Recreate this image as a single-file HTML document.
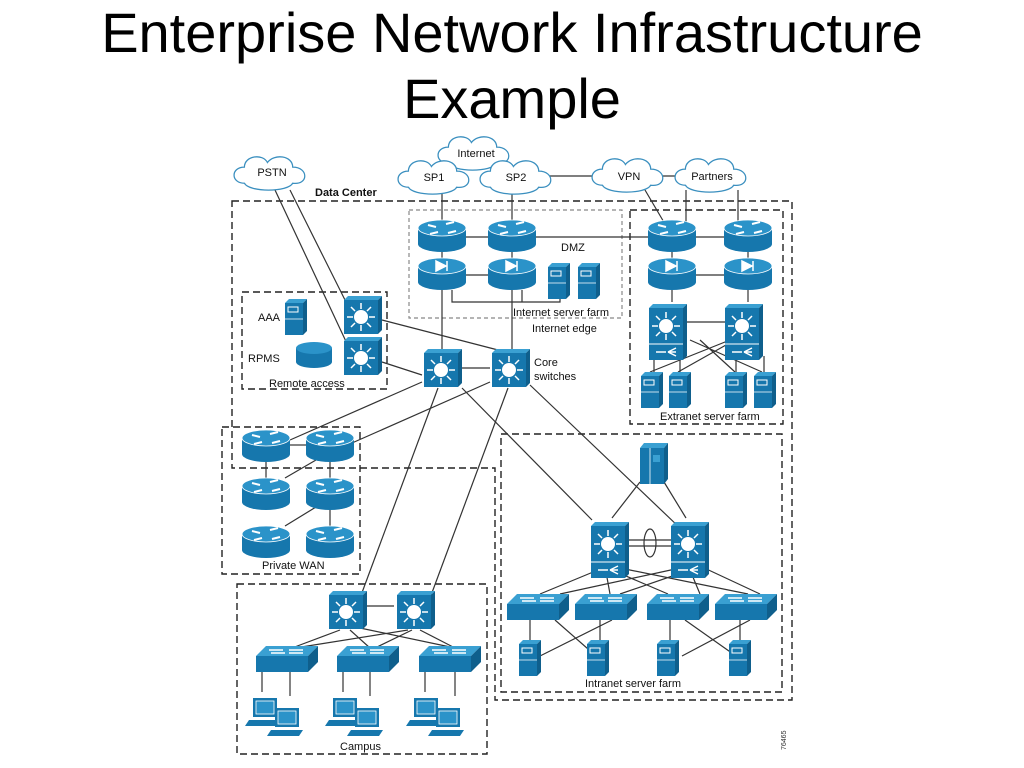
<!DOCTYPE html>
<html><head><meta charset="utf-8"><style>
html,body{margin:0;padding:0;background:#fff;}
svg{display:block;font-family:"Liberation Sans",Arial,sans-serif;}
</style></head><body>
<svg width="1024" height="768" viewBox="0 0 1024 768" xmlns="http://www.w3.org/2000/svg">
<defs>
<g id="router">
 <rect x="-24" y="-7" width="48" height="16" fill="#1677ad"/>
 <ellipse cx="0" cy="9" rx="24" ry="8" fill="#1677ad"/>
 <ellipse cx="0" cy="-7" rx="24" ry="8" fill="#2b93c9" stroke="#fff" stroke-width="0.8"/>
 <path d="M-14,-10 l8,2 M-4,-3 l-8,2 M4,-11 l8,-2 M14,-4 l-8,2" stroke="#fff" stroke-width="2"/>
</g>
<g id="fw">
 <rect x="-24" y="-7" width="48" height="16" fill="#1677ad"/>
 <ellipse cx="0" cy="9" rx="24" ry="8" fill="#1677ad"/>
 <ellipse cx="0" cy="-7" rx="24" ry="8" fill="#2b93c9" stroke="#fff" stroke-width="0.8"/>
 <path d="M-6,-12 L4,-7 L-6,-2 Z M5,-12 V-2" fill="#fff" stroke="#fff" stroke-width="1.5"/>
</g>
<g id="l3">
 <rect x="-19" y="-15" width="34" height="34" fill="#1677ad"/>
 <path d="M-19,-15 l4,-4 h34 l-4,4 Z" fill="#3aa0d2"/>
 <path d="M15,-15 l4,-4 v34 l-4,4 Z" fill="#0f5f8c"/>
 <circle cx="-2" cy="2" r="7" fill="#fff"/>
 <path d="M-2,-12 v6 M-2,10 v6 M-16,2 h6 M6,2 h6 M-12,-8 l4,4 M8,-8 l-4,4 M-12,12 l4,-4 M8,12 l-4,-4" stroke="#fff" stroke-width="1.5"/>
</g>
<g id="l3t">
 <rect x="-19" y="-22" width="34" height="52" fill="#1677ad"/>
 <path d="M-19,-22 l4,-4 h34 l-4,4 Z" fill="#3aa0d2"/>
 <path d="M15,-22 l4,-4 v52 l-4,4 Z" fill="#0f5f8c"/>
 <line x1="-19" y1="14" x2="15" y2="14" stroke="#fff" stroke-width="1"/>
 <circle cx="-2" cy="-4" r="7" fill="#fff"/>
 <path d="M-2,-18 v6 M-2,4 v6 M-16,-4 h6 M6,-4 h6 M-12,-14 l4,4 M8,-14 l-4,4 M-12,6 l4,-4 M8,6 l-4,-4" stroke="#fff" stroke-width="1.5"/>
 <path d="M-12,22 h10 M0,22 l8,-4 M0,22 l8,4 M0,22 h8" stroke="#fff" stroke-width="1.5"/>
</g>
<g id="sw">
 <path d="M-31,-6 l10,-10 h52 l-10,10 Z" fill="#3aa0d2"/>
 <rect x="-31" y="-6" width="52" height="16" fill="#1677ad"/>
 <path d="M21,-6 l10,-10 v16 l-10,10 Z" fill="#0f5f8c"/>
 <path d="M-18,-12 h14 M-2,-9 h-14 M2,-12 h14 M16,-9 h-14" stroke="#fff" stroke-width="1.5"/>
</g>
<g id="srv">
 <rect x="-11" y="-14" width="18" height="32" fill="#1677ad"/>
 <path d="M-11,-14 l4,-4 h18 l-4,4 Z" fill="#3aa0d2"/>
 <path d="M7,-14 l4,-4 v32 l-4,4 Z" fill="#0f5f8c"/>
 <rect x="-8" y="-10" width="10" height="5" fill="none" stroke="#fff" stroke-width="1"/>
 <line x1="-11" y1="2" x2="7" y2="2" stroke="#fff" stroke-width="0.8"/>
</g>
<g id="pc">
 <rect x="-14" y="-14" width="24" height="19" fill="#1677ad"/>
 <rect x="-11" y="-11" width="18" height="13" fill="#2b93c9" stroke="#fff" stroke-width="0.8"/>
 <path d="M-18,8 h32 l-4,6 h-32 Z" fill="#1677ad"/>
</g>
<g id="cloud">
 <path transform="scale(1.15,1.15)" d="M-24,8 C-36,8 -36,-6 -24,-6 C-24,-16 -8,-18 -4,-10 C2,-18 18,-16 18,-6 C32,-6 32,10 18,8 C14,16 -20,16 -24,8 Z" fill="#fff" stroke="#3a8fbf" stroke-width="1.1"/>
</g>
</defs>

<text x="512" y="52" font-size="56" text-anchor="middle" fill="#000">Enterprise Network Infrastructure</text>
<text x="512" y="118" font-size="56" text-anchor="middle" fill="#000">Example</text>

<g fill="none" stroke="#222" stroke-width="1.4" stroke-dasharray="7,4">
 <path d="M232,201 H792 V700 H495 V468 H232 Z"/>
 <rect x="242" y="292" width="145" height="97"/>
 <rect x="222" y="427" width="138" height="147"/>
 <rect x="237" y="584" width="250" height="170"/>
 <rect x="501" y="434" width="281" height="258"/>
 <rect x="630" y="210" width="153" height="214"/>
</g>
<rect x="409" y="210" width="213" height="108" fill="none" stroke="#888" stroke-width="1.2" stroke-dasharray="4,3"/>

<g stroke="#333" stroke-width="1.2" fill="none">
 <line x1="275" y1="190" x2="350" y2="350"/>
 <line x1="290" y1="190" x2="350" y2="310"/>
 <line x1="442" y1="192" x2="442" y2="225"/>
 <line x1="512" y1="192" x2="512" y2="225"/>
 <line x1="548" y1="176" x2="600" y2="176"/>
 <line x1="658" y1="176" x2="686" y2="176"/>
 <line x1="645" y1="190" x2="665" y2="224"/>
 <line x1="686" y1="190" x2="686" y2="224"/>
 <line x1="738" y1="190" x2="738" y2="224"/>
 <line x1="466" y1="237" x2="488" y2="237"/>
 <line x1="536" y1="237" x2="648" y2="237"/>
 <line x1="696" y1="237" x2="726" y2="237"/>
 <line x1="466" y1="275" x2="488" y2="275"/>
 <line x1="696" y1="275" x2="726" y2="275"/>
 <line x1="442" y1="248" x2="442" y2="265"/>
 <line x1="512" y1="248" x2="512" y2="265"/>
 <line x1="672" y1="248" x2="672" y2="265"/>
 <line x1="748" y1="248" x2="748" y2="265"/>
 <path d="M452,290 V302 H560 V295 M522,290 V302"/>
 <line x1="442" y1="290" x2="442" y2="352"/>
 <line x1="512" y1="290" x2="512" y2="352"/>
 <line x1="672" y1="290" x2="672" y2="302"/>
 <line x1="748" y1="290" x2="748" y2="302"/>
 <line x1="686" y1="322" x2="726" y2="322"/>
 <line x1="382" y1="320" x2="498" y2="350"/>
 <line x1="382" y1="362" x2="422" y2="375"/>
 <line x1="460" y1="368" x2="490" y2="368"/>
 <path d="M654,356 V372 M680,356 V372 M736,356 V372 M764,356 V372"/>
 <path d="M690,340 L762,372 M700,340 L735,372 M730,340 L650,372 M726,345 L678,372"/>
 <line x1="422" y1="382" x2="290" y2="440"/>
 <line x1="490" y1="382" x2="352" y2="443"/>
 <line x1="438" y1="388" x2="360" y2="598"/>
 <line x1="508" y1="388" x2="430" y2="598"/>
 <line x1="462" y1="388" x2="592" y2="520"/>
 <line x1="530" y1="385" x2="680" y2="528"/>
 <line x1="290" y1="445" x2="306" y2="445"/>
 <line x1="266" y1="460" x2="266" y2="480"/>
 <line x1="330" y1="460" x2="330" y2="480"/>
 <line x1="285" y1="478" x2="316" y2="460"/>
 <line x1="285" y1="526" x2="316" y2="507"/>
 <line x1="330" y1="508" x2="330" y2="528"/>
 <line x1="366" y1="606" x2="394" y2="606"/>
 <path d="M340,630 L292,648 M350,630 L370,648 M360,628 L455,648 M408,630 L295,648 M412,630 L375,648 M420,630 L455,648"/>
 <path d="M262,670 V692 M290,670 V696 M343,670 V692 M370,670 V696 M425,670 V692 M455,670 V696"/>
 <line x1="640" y1="482" x2="612" y2="518"/>
 <line x1="664" y1="482" x2="686" y2="518"/>
 <path d="M618,540 H678 M618,546 H678"/>
 <ellipse cx="650" cy="543" rx="6" ry="14"/>
 <path d="M598,570 L540,594 M606,572 L610,594 M612,570 L668,594 M620,568 L748,594 M680,568 L560,594 M684,572 L620,594 M690,570 L700,594 M700,566 L760,594"/>
 <path d="M530,620 V640 M600,620 V640 M670,620 V640 M740,620 V640 M555,620 L596,656 M612,620 L540,656 M685,620 L736,656 M750,620 L682,656"/>
</g>

<use href="#cloud" x="272" y="174"/>
<use href="#cloud" x="476" y="154"/>
<use href="#cloud" x="436" y="178"/>
<use href="#cloud" x="518" y="178"/>
<use href="#cloud" x="630" y="176"/>
<use href="#cloud" x="713" y="176"/>
<g font-size="11" fill="#111" text-anchor="middle">
<text x="272" y="176">PSTN</text>
<text x="476" y="157">Internet</text>
<text x="434" y="181">SP1</text>
<text x="516" y="181">SP2</text>
<text x="629" y="180">VPN</text>
<text x="712" y="180">Partners</text>
</g>
<text x="315" y="196" font-size="11" font-weight="bold" fill="#111">Data Center</text>

<use href="#router" x="442" y="235"/>
<use href="#router" x="512" y="235"/>
<use href="#fw" x="442" y="273"/>
<use href="#fw" x="512" y="273"/>
<use href="#router" x="672" y="235"/>
<use href="#router" x="748" y="235"/>
<use href="#fw" x="672" y="273"/>
<use href="#fw" x="748" y="273"/>
<use href="#srv" x="559" y="281"/>
<use href="#srv" x="589" y="281"/>
<use href="#l3t" x="668" y="330"/>
<use href="#l3t" x="744" y="330"/>
<use href="#srv" x="652" y="390"/>
<use href="#srv" x="680" y="390"/>
<use href="#srv" x="736" y="390"/>
<use href="#srv" x="765" y="390"/>
<use href="#srv" x="296" y="317"/>
<g>
 <rect x="296" y="348" width="36" height="14" fill="#1677ad"/>
 <ellipse cx="314" cy="362" rx="18" ry="6" fill="#1677ad"/>
 <ellipse cx="314" cy="348" rx="18" ry="6" fill="#2b93c9"/>
</g>
<use href="#l3" x="363" y="315"/>
<use href="#l3" x="363" y="356"/>
<use href="#l3" x="443" y="368"/>
<use href="#l3" x="511" y="368"/>
<use href="#router" x="266" y="445"/>
<use href="#router" x="330" y="445"/>
<use href="#router" x="266" y="493"/>
<use href="#router" x="330" y="493"/>
<use href="#router" x="266" y="541"/>
<use href="#router" x="330" y="541"/>
<use href="#l3" x="348" y="610"/>
<use href="#l3" x="416" y="610"/>
<use href="#sw" x="287" y="662"/>
<use href="#sw" x="368" y="662"/>
<use href="#sw" x="450" y="662"/>
<use href="#pc" x="267" y="712"/>
<use href="#pc" x="289" y="722"/>
<use href="#pc" x="347" y="712"/>
<use href="#pc" x="369" y="722"/>
<use href="#pc" x="428" y="712"/>
<use href="#pc" x="450" y="722"/>
<g>
 <rect x="640" y="448" width="24" height="36" fill="#1677ad"/>
 <path d="M640,448 l4,-5 h24 l-4,5 Z" fill="#3aa0d2"/>
 <path d="M664,448 l4,-5 v36 l-4,5 Z" fill="#0f5f8c"/>
 <rect x="653" y="455" width="7" height="7" fill="#3aa0d2"/>
 <line x1="650" y1="448" x2="650" y2="484" stroke="#fff" stroke-width="0.8"/>
</g>
<use href="#l3t" x="610" y="548"/>
<use href="#l3t" x="690" y="548"/>
<use href="#sw" x="538" y="610"/>
<use href="#sw" x="606" y="610"/>
<use href="#sw" x="678" y="610"/>
<use href="#sw" x="746" y="610"/>
<use href="#srv" x="530" y="658"/>
<use href="#srv" x="598" y="658"/>
<use href="#srv" x="668" y="658"/>
<use href="#srv" x="740" y="658"/>

<g font-size="11" fill="#111">
<text x="561" y="251">DMZ</text>
<text x="513" y="316">Internet server farm</text>
<text x="532" y="332">Internet edge</text>
<text x="258" y="321">AAA</text>
<text x="248" y="362">RPMS</text>
<text x="269" y="387">Remote access</text>
<text x="534" y="366">Core</text>
<text x="534" y="380">switches</text>
<text x="262" y="569">Private WAN</text>
<text x="340" y="750">Campus</text>
<text x="585" y="687">Intranet server farm</text>
<text x="660" y="420">Extranet server farm</text>
</g>
<text transform="translate(786,750) rotate(-90)" font-size="7" fill="#333">76465</text>
</svg>
</body></html>
